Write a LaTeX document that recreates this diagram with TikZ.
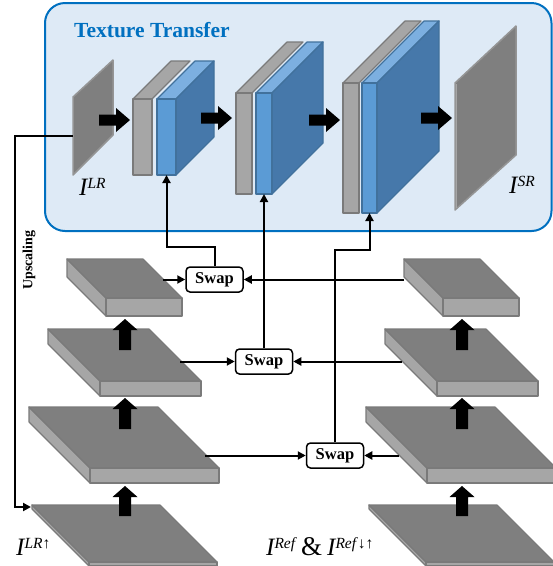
\documentclass[tikz,border=0pt]{standalone}
\usepackage{fontspec}
\setmainfont{Liberation Serif}
\usetikzlibrary{arrows.meta}
\definecolor{ttblue}{RGB}{0,112,192}
\definecolor{ttfill}{RGB}{222,234,246}
\definecolor{pgray}{RGB}{127,127,127}
\definecolor{lgray}{RGB}{166,166,166}
\definecolor{egray}{RGB}{122,122,122}
\definecolor{bfront}{RGB}{91,155,213}
\definecolor{btop}{RGB}{124,175,224}
\definecolor{bside}{RGB}{70,120,170}
\definecolor{bedge}{RGB}{65,113,156}
\tikzset{
  conn/.style={line width=2pt, -{Triangle[length=8pt,width=8pt]}},
  swapbox/.style={draw, line width=1.5pt, rounded corners=4pt, fill=white,
    minimum width=57pt, minimum height=25pt, inner sep=0pt,
    font=\fontsize{16.5}{16.5}\selectfont\bfseries},
  slabtop/.style={fill=pgray, draw=egray, line width=1.2pt, line join=round},
  slabside/.style={fill=lgray, draw=egray, line width=1.2pt, line join=round},
  planeface/.style={fill=pgray, draw=egray!80!white, line width=1.5pt, line join=round},
  grayface/.style={fill=lgray, draw=egray, line width=1.2pt, line join=round},
  bluetop/.style={fill=btop, draw=bedge, line width=1.2pt, line join=round},
  blueside/.style={fill=bside, draw=bedge, line width=1.2pt, line join=round},
  bluefront/.style={fill=bfront, draw=bedge, line width=1.2pt, line join=round},
  lbl/.style={inner sep=0pt, anchor=base west},
}
\newcommand{\SlabAt}[5]{% x y w d t
  \filldraw[slabside] (#1,#2) -- ++(#4,#4) -- ++(0,#5) -- ++(-#4,-#4) -- cycle;
  \filldraw[slabtop] (#1,#2) -- ++(#3,0) -- ++(#4,#4) -- ++(-#3,0) -- cycle;
  \filldraw[slabside] (#1+#4,#2+#4) rectangle ++(#3,#5);
}
\newcommand{\ConvAt}[7]{% gx gw bx bw top bottom d
  \filldraw[grayface] (#1,#5) -- ++(#7,-#7) -- ++(#2,0) -- ++(-#7,#7) -- cycle;
  \filldraw[grayface] (#1,#5) rectangle (#1+#2,#6);
  \filldraw[bluetop] (#3,#5) -- ++(#7,-#7) -- ++(#4,0) -- ++(-#7,#7) -- cycle;
  \filldraw[blueside] (#3+#4,#5) -- ++(#7,-#7) -- (#3+#4+#7,#6-#7) -- (#3+#4,#6) -- cycle;
  \filldraw[bluefront] (#3,#5) rectangle (#3+#4,#6);
}
\newcommand{\RArr}[2]{\fill (#1,#2-5.5) -- ++(17,0) -- ++(0,-6.5) -- ++(14,12) -- ++(-14,12) -- ++(0,-6.5) -- ++(-17,0) -- cycle;}
\newcommand{\UArr}[3]{\fill (#1-6,#2) -- (#1-6,#3+11) -- (#1-12.5,#3+11) -- (#1,#3) -- (#1+12.5,#3+11) -- (#1+6,#3+11) -- (#1+6,#2) -- cycle;}
\newcommand{\LblI}[1]{{\fontsize{25}{25}\selectfont\itshape I}\raisebox{6.5pt}{\fontsize{15.5}{15.5}\selectfont\itshape #1}}
\begin{document}
\begin{tikzpicture}[x=1pt,y=-1pt]
\useasboundingbox (0,0) rectangle (553,566);
\clip (0,0) rectangle (553,566);
% texture transfer panel
\draw[ttblue, fill=ttfill, line width=2pt, rounded corners=20pt] (45,3) rectangle (551.5,231);
\node[lbl, text=ttblue, font=\fontsize{21.5}{21.5}\selectfont\bfseries] (tt) at (74,37) {Texture Transfer};
% input / output planes
\filldraw[planeface] (73,97) -- (113,60) -- (113,135) -- (73,175) -- cycle;
\filldraw[planeface] (455,83) -- (516,26) -- (516,155) -- (455,210) -- cycle;
\draw[lgray, line width=1.2pt] (456.5,84) -- (456.5,208);
% conv blocks
\ConvAt{133}{19}{157}{19}{99}{175}{38}
\ConvAt{236}{16}{256}{16}{93}{194}{51}
\ConvAt{343}{16}{362}{15}{83}{213}{62}
% block arrows
\RArr{99}{120}
\RArr{201}{118}
\RArr{309}{120}
\RArr{421}{118}
% labels in panel
\node[lbl] (llr) at (79,195) {\LblI{LR}};
\node[lbl] (lsr) at (509,193) {\LblI{SR}};
% left stack
\SlabAt{67}{259}{76}{39}{18}
\SlabAt{48}{329}{101}{52}{15}
\SlabAt{29}{407}{129}{61}{15}
\SlabAt{32}{505}{128}{57}{4}
% right stack
\SlabAt{404}{259}{76}{39}{18}
\SlabAt{385}{329}{101}{52}{15}
\SlabAt{366}{407}{129}{61}{15}
\SlabAt{369}{505}{128}{57}{4}
% up arrows
\UArr{125}{516}{486}
\UArr{125}{429}{398}
\UArr{125}{350}{319}
\UArr{462}{516}{486}
\UArr{462}{429}{398}
\UArr{462}{350}{319}
% swap nodes
\node[swapbox] (s1) at (214.5,279.5) {Swap};
\node[swapbox] (s2) at (264,361.5) {Swap};
\node[swapbox] (s3) at (335,455.5) {Swap};
% coordinates
\coordinate (b1) at (166.5,175);
\coordinate (b2) at (264,194);
\coordinate (b3) at (369.5,213);
\coordinate (j1) at (166.5,247);
\coordinate (j3) at (369.5,250);
\coordinate (la) at (162.5,279.5);
\coordinate (ra) at (404,279.5);
\coordinate (lb) at (180,361.5);
\coordinate (rb) at (402,361.5);
\coordinate (lc) at (205,455.5);
\coordinate (rc) at (399,455.5);
\coordinate (lrp) at (73,136);
\coordinate (u1) at (15,136);
\coordinate (u2) at (15,507);
\coordinate (dp) at (31,507);
% connectors
\draw[conn] (s1.north) |- (j1) -- (b1);
\draw[conn] (s2.north) -- (b2);
\draw[conn] (s3.north) |- (j3) -- (b3);
\draw[conn] (ra) -- (s1.east);
\draw[conn] (rb) -- (s2.east);
\draw[conn] (rc) -- (s3.east);
\draw[conn] (la) -- (s1.west);
\draw[conn] (lb) -- (s2.west);
\draw[conn] (lc) -- (s3.west);
\draw[conn] (lrp) -- (u1) -- (u2) -- (dp);
\node[rotate=90, inner sep=0pt, font=\fontsize{14}{14}\selectfont\bfseries] (up) at (29,260) {Upscaling};
% bottom labels
\node[lbl] (llru) at (16,555) {\LblI{LR\textup{↑}}};
\node[lbl] (lref) at (266,555) {\LblI{Ref}\hspace{6pt}{\fontsize{27}{27}\selectfont\&}\hspace{5pt}\LblI{Ref\textup{↓↑}}};
\end{tikzpicture}
\end{document}
